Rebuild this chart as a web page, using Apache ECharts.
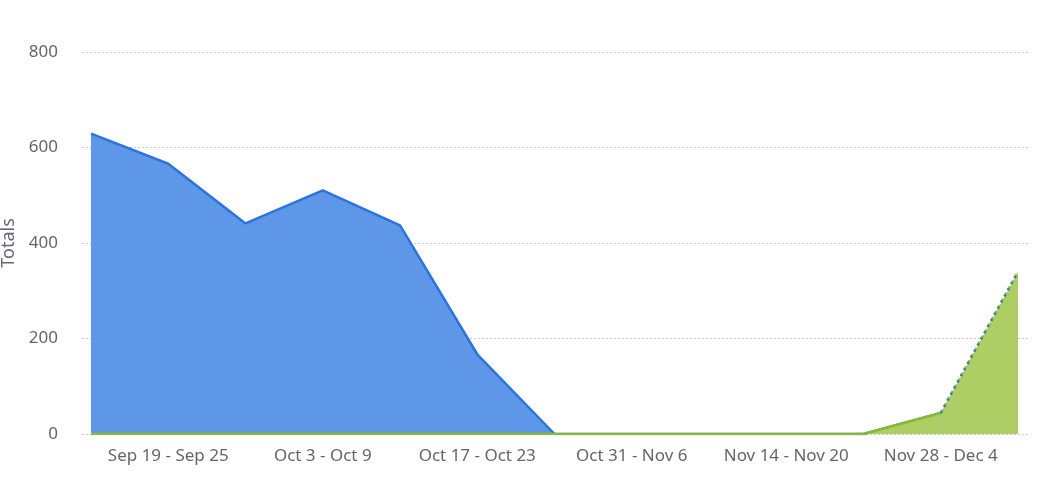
<!DOCTYPE html>
<html><head><meta charset="utf-8">
<script src="https://cdn.jsdelivr.net/npm/echarts@6/dist/echarts.min.js"></script>
<style>html,body{margin:0;padding:0;background:#fff}#c{width:1051px;height:488px}</style>
</head><body><div id="c"></div>
<script>
const categories = ["Sep 12 - Sep 18","Sep 19 - Sep 25","Sep 26 - Oct 2","Oct 3 - Oct 9","Oct 10 - Oct 16","Oct 17 - Oct 23","Oct 24 - Oct 30","Oct 31 - Nov 6","Nov 7 - Nov 13","Nov 14 - Nov 20","Nov 21 - Nov 27","Nov 28 - Dec 4","Dec 5 - Dec 11"];
const blueValues = [629, 566, 441, 510, 437, 167, 0, 0, 0, 0, 0, 0, 0];
const greenValues = [0, 0, 0, 0, 0, 0, 0, 0, 0, 0, 0, 44, 340];
const yTicks = [0, 200, 400, 600, 800];

const n = categories.length;
const last = n - 1;
const blueTop = blueValues.map((v, i) => v + greenValues[i]);
const solid = arr => arr.map((v, i) => i < last ? v : '-');
const tail = arr => arr.map((v, i) => i >= last - 1 ? v : '-');

const font = 'Noto Sans';
const chart = echarts.init(document.getElementById('c'));
chart.setOption({
  animation: false,
  grid: [
    {left: 82, right: 23, top: 52, bottom: 54, containLabel: false, outerBoundsMode: 'none'},
    {left: 91, right: 33, top: 52, bottom: 54, containLabel: false, outerBoundsMode: 'none'}
  ],
  xAxis: [
    {gridIndex: 0, type: 'category', data: categories, show: false},
    {gridIndex: 1, type: 'category', data: categories, boundaryGap: false,
     axisLine: {show: false}, axisTick: {show: false},
     axisLabel: {interval: (i) => i % 2 === 1, color: '#666', fontSize: 17, fontFamily: font, margin: 14}}
  ],
  yAxis: [
    {gridIndex: 0, type: 'value', min: yTicks[0], max: yTicks[yTicks.length-1], interval: 200,
     name: 'Totals', nameLocation: 'middle', nameGap: 61,
     nameTextStyle: {color: '#6a6478', fontSize: 18, fontFamily: font},
     axisLabel: {color: '#666', fontSize: 17, fontFamily: font, margin: 24},
     splitLine: {lineStyle: {color: '#c8c8c8', type: [2, 2], width: 1}},
     axisLine: {show: false}, axisTick: {show: false}},
    {gridIndex: 1, type: 'value', min: yTicks[0], max: yTicks[yTicks.length-1], interval: 200, show: false, splitLine: {show: false}}
  ],
  series: [
    {type: 'line', xAxisIndex: 1, yAxisIndex: 1, data: solid(blueTop), symbol: 'none', z: 2,
     lineStyle: {color: '#2b74de', width: 2.5}, areaStyle: {color: '#5f97e8', opacity: 1}},
    {type: 'line', xAxisIndex: 1, yAxisIndex: 1, data: tail(blueTop), symbol: 'none', z: 4,
     lineStyle: {color: '#2b74de', width: 2.5, type: [2, 5]}},
    {type: 'line', xAxisIndex: 1, yAxisIndex: 1, data: solid(greenValues), symbol: 'none', z: 3,
     lineStyle: {color: '#8cba2f', width: 2.5}, areaStyle: {color: '#adce64', opacity: 1}},
    {type: 'line', xAxisIndex: 1, yAxisIndex: 1, data: tail(greenValues), symbol: 'none', z: 3,
     lineStyle: {color: '#8cba2f', width: 2.5, type: [4, 3]}, areaStyle: {color: '#adce64', opacity: 1}}
  ]
});
</script></body></html>
